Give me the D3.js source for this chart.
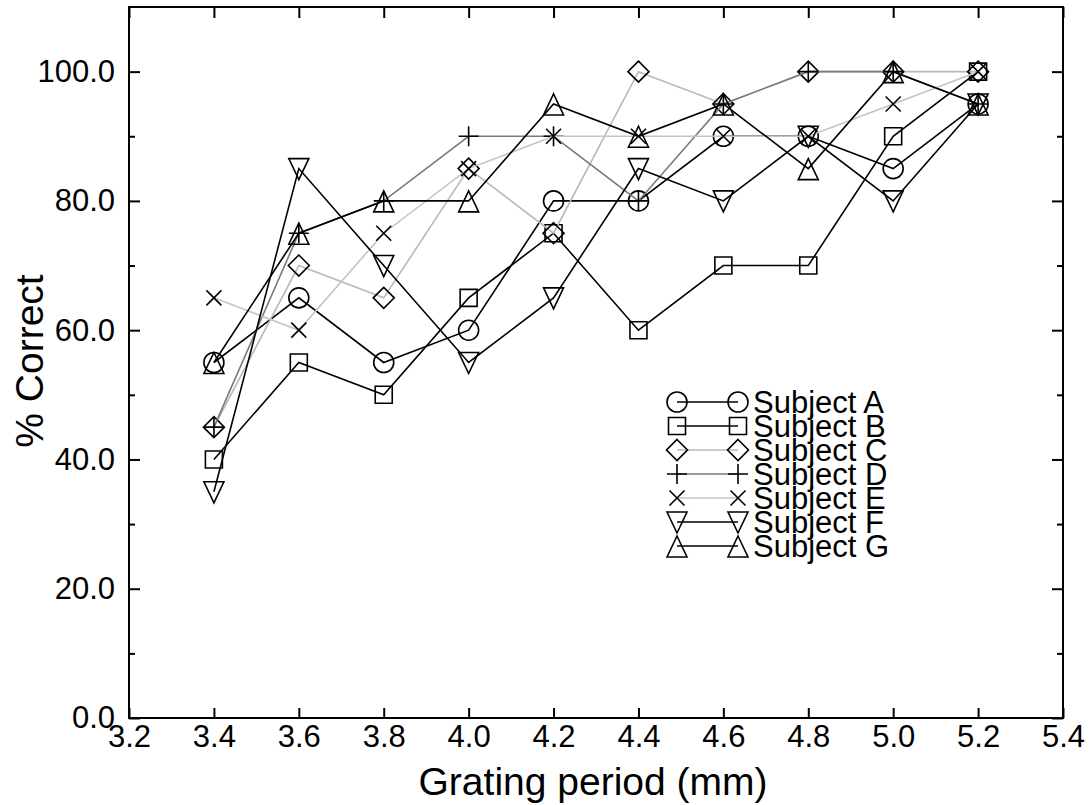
<!DOCTYPE html>
<html><head><meta charset="utf-8">
<script src="https://cdn.jsdelivr.net/npm/d3@7"></script>
<style>body{margin:0;background:#fff}svg{display:block}text{font-family:"Liberation Sans",Arial,sans-serif;fill:#000}</style>
</head><body><svg id="c" width="1091" height="805"></svg>
<script>
const periods = [3.4,3.6,3.8,4.0,4.2,4.4,4.6,4.8,5.0,5.2];
const subjectA = [55,65,55,60,80,80,90,90,85,95];
const subjectB = [40,55,50,65,75,60,70,70,90,100];
const subjectC = [45,70,65,85,75,100,95,100,100,100];
const subjectD = [45,75,80,90,90,80,95,100,100,95];
const subjectE = [65,60,75,85,90,90,90,90,95,100];
const subjectF = [35,85,70,55,65,85,80,90,80,95];
const subjectG = [55,75,80,80,95,90,95,85,100,95];
const seriesNames = ["Subject A","Subject B","Subject C","Subject D","Subject E","Subject F","Subject G"];
const xTicks = [3.2,3.4,3.6,3.8,4.0,4.2,4.4,4.6,4.8,5.0,5.2,5.4];
const yTicks = [0,20,40,60,80,100];
const yMinor = [10,30,50,70,90];

const seriesVals = [subjectA,subjectB,subjectC,subjectD,subjectE,subjectF,subjectG];
const lineColors = ["#000","#000","#b8b8b8","#7a7a7a","#c4c4c4","#000","#000"];
const symbolTypes = ["circle","square","diamond","plus","cross","tdown","tup"];

const L=129,R=1063,T=7,B=718;
const x = d3.scaleLinear().domain([3.2,5.4]).range([L,R]);
const y = d3.scaleLinear().domain([0,110]).range([B,T]);
const svg = d3.select("#c");

function symPath(t){
  switch(t){
    case "circle": return d3.arc()({innerRadius:0,outerRadius:10,startAngle:0,endAngle:2*Math.PI});
    case "square": return "M-8.5,-8.5H8.5V8.5H-8.5Z";
    case "diamond": return "M0,-10.5L10.5,0L0,10.5L-10.5,0Z";
    case "plus": return "M-10,0H10M0,-10V10";
    case "cross": return "M-7.5,-7.5L7.5,7.5M7.5,-7.5L-7.5,7.5";
    case "tdown": return "M-10,-10H10L0,11Z";
    case "tup": return "M-10,11H10L0,-10Z";
  }
}

// axes
const fmt = d3.format(".1f");
const gB = svg.append("g").attr("transform",`translate(0,${B})`)
  .call(d3.axisBottom(x).tickValues(xTicks).tickSize(-10).tickPadding(7).tickFormat(fmt));
const gT = svg.append("g").attr("transform",`translate(0,${T})`)
  .call(d3.axisTop(x).tickValues(xTicks).tickSize(-11).tickFormat(""));
const gL = svg.append("g").attr("transform",`translate(${L},0)`)
  .call(d3.axisLeft(y).tickValues(yTicks).tickSize(-11).tickPadding(14).tickFormat(fmt));
const gLm = svg.append("g").attr("transform",`translate(${L},0)`)
  .call(d3.axisLeft(y).tickValues(yMinor).tickSize(-6).tickFormat(""));
const gR = svg.append("g").attr("transform",`translate(${R},0)`)
  .call(d3.axisRight(y).tickValues(yTicks).tickSize(-11).tickFormat(""));
const gRm = svg.append("g").attr("transform",`translate(${R},0)`)
  .call(d3.axisRight(y).tickValues(yMinor).tickSize(-6).tickFormat(""));
[gB,gT,gL,gLm,gR,gRm].forEach(g=>{
  g.select(".domain").remove();
  g.selectAll("line").attr("stroke","#000").attr("stroke-width",2);
  g.selectAll("text").attr("font-size",31).attr("font-family","Liberation Sans, Arial, sans-serif").attr("fill","#000");
});
svg.append("rect").attr("x",L).attr("y",T).attr("width",R-L).attr("height",B-T)
  .attr("fill","none").attr("stroke","#000").attr("stroke-width",2);

// series
const line = d3.line().x((d,i)=>x(periods[i])).y(d=>y(d));
seriesVals.forEach((vals,k)=>{
  const g = svg.append("g");
  g.append("path").attr("d",line(vals)).attr("fill","none")
    .attr("stroke",lineColors[k]).attr("stroke-width",1.6);
  g.selectAll("path.m").data(vals).join("path").attr("class","m")
    .attr("transform",(d,i)=>`translate(${x(periods[i])},${y(d)})`)
    .attr("d",symPath(symbolTypes[k])).attr("fill","none")
    .attr("stroke","#000").attr("stroke-width",1.6);
});

// legend
const lx1=677, lx2=738, ltx=753, ly0=402, ldy=24;
seriesNames.forEach((n,k)=>{
  const yy = ly0+k*ldy;
  const g = svg.append("g");
  g.append("line").attr("x1",lx1).attr("x2",lx2).attr("y1",yy).attr("y2",yy)
    .attr("stroke",lineColors[k]).attr("stroke-width",1.6);
  [lx1,lx2].forEach(xx=>g.append("path").attr("transform",`translate(${xx},${yy})`)
    .attr("d",symPath(symbolTypes[k])).attr("fill","none").attr("stroke","#000").attr("stroke-width",1.6));
  g.append("text").attr("x",ltx).attr("y",yy).attr("dy","0.36em").attr("font-size",31).text(n);
});

// titles
svg.append("text").attr("x",593).attr("y",795).attr("text-anchor","middle")
  .attr("font-size",39).text("Grating period (mm)");
svg.append("text").attr("transform","translate(43,361) rotate(-90)").attr("text-anchor","middle")
  .attr("font-size",39).text("% Correct");
</script></body></html>
